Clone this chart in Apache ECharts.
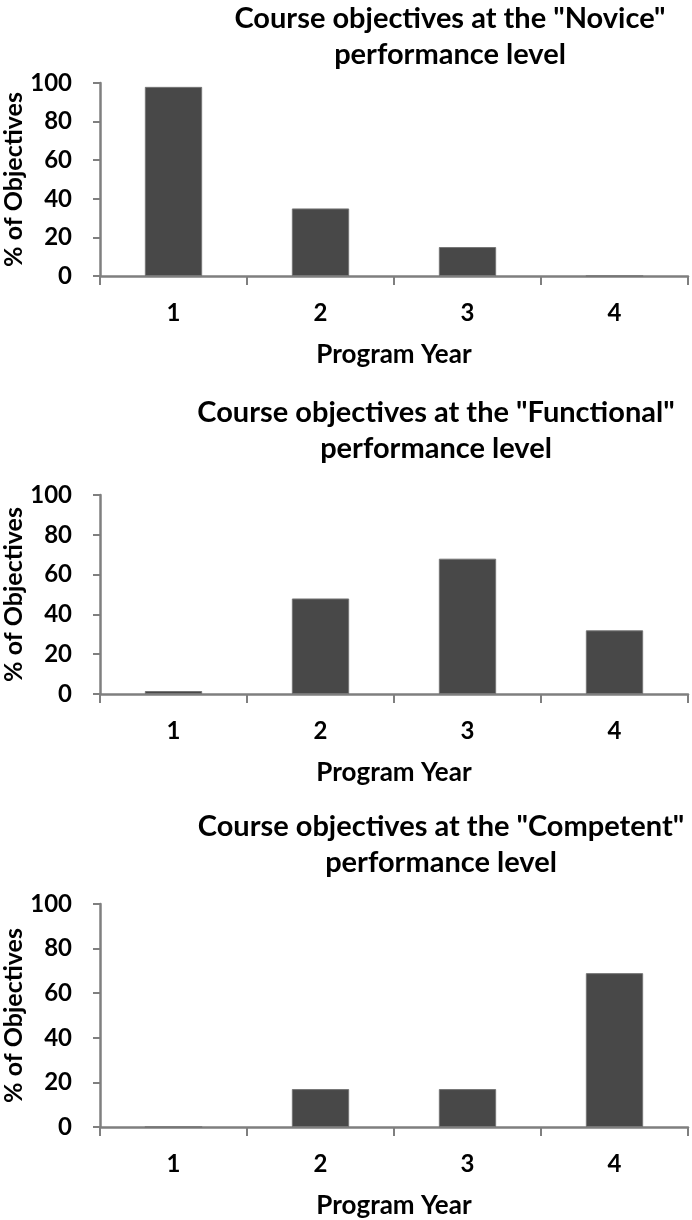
<!DOCTYPE html>
<html><head><meta charset="utf-8">
<script src="https://cdn.jsdelivr.net/npm/echarts@6/dist/echarts.min.js"></script>
<style>html,body{margin:0;padding:0;background:#fff}#c{width:692px;height:1220px}</style>
</head><body><div id="c"></div>
<script>
// ---- data ----
const categories = ['1', '2', '3', '4'];
const noviceValues = [98, 35, 15, 0];
const functionalValues = [1.5, 48, 68, 32];
const competentValues = [0, 17, 17, 69];
const panelTitles = [
  'Course objectives at the "Novice"\nperformance level',
  'Course objectives at the "Functional"\nperformance level',
  'Course objectives at the "Competent"\nperformance level'
];
const xAxisTitle = 'Program Year';
const yAxisTitle = '% of Objectives';
const yMin = 0, yMax = 100, yStep = 20;

// ---- layout / style ----
const FONT = 'Lato';
const axisColor = '#7f7f7f';
const barColor = '#484848';
const panels = [
  { values: noviceValues, top: 83, height: 193, titleX: 445, titleTop: -4 },
  { values: functionalValues, top: 495, height: 199, titleX: 431, titleTop: 390 },
  { values: competentValues, top: 904, height: 223, titleX: 436, titleTop: 804 }
];

const chart = echarts.init(document.getElementById('c'), null, { renderer: 'canvas' });
const option = {
  backgroundColor: '#ffffff',
  animation: false,
  title: [], grid: [], xAxis: [], yAxis: [], series: []
};
panels.forEach((p, i) => {
  option.title.push({
    text: panelTitles[i], left: p.titleX, top: p.titleTop, textAlign: 'center',
    textStyle: { fontFamily: FONT, fontWeight: 'bold', fontSize: 29, lineHeight: 36, color: '#000' }
  });
  option.grid.push({ left: 100, width: 588, top: p.top, height: p.height, containLabel: false, outerBoundsMode: 'none' });
  option.xAxis.push({
    type: 'category', gridIndex: i, data: categories,
    name: xAxisTitle, nameLocation: 'middle', nameGap: 66, nameMoveOverlap: false,
    nameTextStyle: { fontFamily: FONT, fontWeight: 'bold', fontSize: 26, color: '#000' },
    axisLine: { show: true, lineStyle: { color: axisColor, width: 2.5 } },
    axisTick: { show: true, length: 9, lineStyle: { color: axisColor, width: 2 } },
    axisLabel: { margin: 25, fontFamily: FONT, fontWeight: 'bold', fontSize: 24, color: '#000' },
    splitLine: { show: false }
  });
  option.yAxis.push({
    type: 'value', gridIndex: i, min: yMin, max: yMax, interval: yStep,
    name: yAxisTitle, nameLocation: 'middle', nameRotate: 90, nameGap: 74, nameMoveOverlap: false,
    nameTextStyle: { fontFamily: FONT, fontWeight: 'bold', fontSize: 25, color: '#000' },
    axisLine: { show: true, lineStyle: { color: axisColor, width: 2.5 } },
    axisTick: { show: true, length: 7, lineStyle: { color: axisColor, width: 2 } },
    axisLabel: { margin: 28, fontFamily: FONT, fontWeight: 'bold', fontSize: 24, color: '#000' },
    splitLine: { show: false }
  });
  option.series.push({
    type: 'bar', xAxisIndex: i, yAxisIndex: i, data: p.values,
    barWidth: '39%',
    itemStyle: { color: barColor, borderColor: '#757575', borderWidth: 1 }
  });
});
chart.setOption(option);
</script>
</body></html>
